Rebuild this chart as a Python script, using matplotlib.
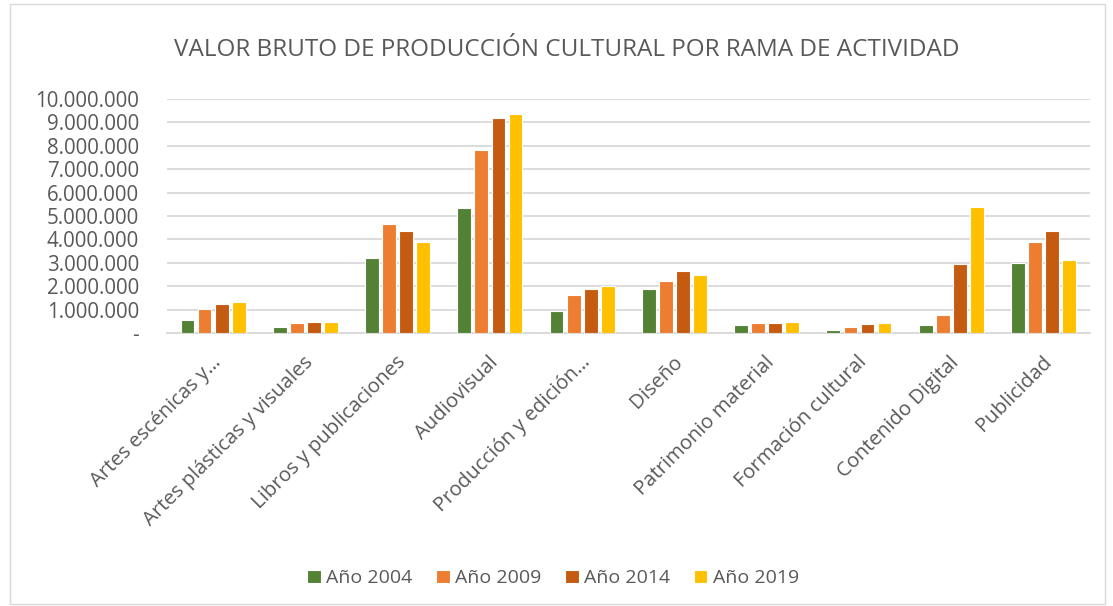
import matplotlib.pyplot as plt
import numpy as np
from matplotlib.patches import Rectangle
from matplotlib.ticker import FuncFormatter
from matplotlib.transforms import ScaledTranslation

plt.rcParams["font.family"] = ["Open Sans", "DejaVu Sans"]

categories = [
    "Artes escénicas y…",
    "Artes plásticas y visuales",
    "Libros y publicaciones",
    "Audiovisual",
    "Producción y edición…",
    "Diseño",
    "Patrimonio material",
    "Formación cultural",
    "Contenido Digital",
    "Publicidad",
]
series_names = ["Año 2004", "Año 2009", "Año 2014", "Año 2019"]
v2004 = [570000, 270000, 3200000, 5330000, 930000, 1890000, 340000, 130000, 330000, 3000000]
v2009 = [1030000, 410000, 4660000, 7830000, 1630000, 2240000, 410000, 270000, 760000, 3910000]
v2014 = [1230000, 470000, 4340000, 9170000, 1870000, 2660000, 440000, 390000, 2970000, 4340000]
v2019 = [1340000, 470000, 3870000, 9360000, 1990000, 2500000, 490000, 440000, 5400000, 3130000]
colors = ["#548235", "#ED7D31", "#C55A11", "#FFC000"]

text_gray = "#595959"
grid_gray = "#D9D9D9"

fig = plt.figure(figsize=(11.13, 6.06), dpi=100)
ax = fig.add_axes([0.150, 0.4505, 0.829, 0.386])

x = np.arange(len(categories))
slot = 0.185
for j, vals in enumerate([v2004, v2009, v2014, v2019]):
    ax.bar(x + (j - 1.5) * slot, vals, width=0.15, color=colors[j],
           edgecolor="white", linewidth=0.8, label=series_names[j], zorder=3)

ax.set_xlim(-0.5, len(categories) - 0.5)
ax.set_ylim(0, 10000000)
ax.set_yticks(np.arange(0, 10000001, 1000000))


def fmt(v, pos):
    if v == 0:
        return "-"
    return f"{int(v):,}".replace(",", ".")


ax.yaxis.set_major_formatter(FuncFormatter(fmt))
ax.grid(axis="y", color=grid_gray, linewidth=1.3, zorder=0)
for s in ["top", "right", "left"]:
    ax.spines[s].set_visible(False)
ax.spines["bottom"].set_color(grid_gray)
ax.spines["bottom"].set_linewidth(1.3)
ax.tick_params(axis="x", length=0, colors=text_gray, labelsize=14.6, pad=19)
ax.tick_params(axis="y", length=0, colors=text_gray, labelsize=14.8, pad=20)
ax.set_xticks(x)
ax.set_xticklabels(categories, rotation=45, ha="right", va="center",
                   rotation_mode="anchor")
shift = ScaledTranslation(0.05, 0, fig.dpi_scale_trans)
for lbl in ax.get_xticklabels():
    lbl.set_transform(lbl.get_transform() + shift)

fig.text(0.509, 0.918, "VALOR BRUTO DE PRODUCCIÓN CULTURAL POR RAMA DE ACTIVIDAD",
         ha="center", va="center", fontsize=17.5, color=text_gray)

fig.legend(loc="center", bbox_to_anchor=(0.497, 0.046), ncol=4, frameon=False,
           fontsize=14, labelcolor=text_gray, handlelength=0.7, handleheight=0.7,
           handletextpad=0.3, columnspacing=1.2)

fig.patches.append(Rectangle((0.009, 0.003), 0.984, 0.99, transform=fig.transFigure,
                             fill=False, edgecolor=grid_gray, linewidth=1))

fig.savefig("out.png", dpi=100)
